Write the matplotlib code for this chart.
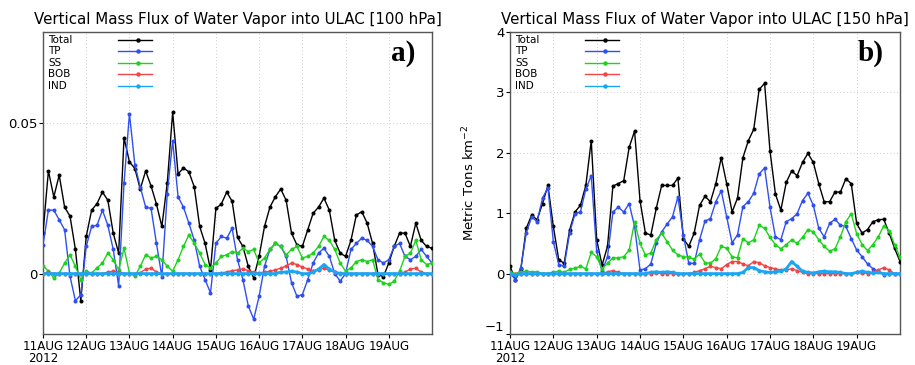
import numpy as np
import pandas as pd
import matplotlib
matplotlib.use("Agg")
import matplotlib.pyplot as plt

# 3-hourly samples, 11AUG2012 00Z .. 20AUG2012 00Z
times = pd.date_range("2012-08-11 00:00", periods=73, freq="3h")
day_ticks = pd.date_range("2012-08-11", periods=9, freq="D")
day_labels = ["11AUG\n2012", "12AUG", "13AUG", "14AUG", "15AUG",
              "16AUG", "17AUG", "18AUG", "19AUG"]

series_names = ["Total", "TP", "SS", "BOB", "IND"]
COLORS = ["black", "#2f4ff0", "#1ed21e", "#f04646", "#1aa6f5"]

# ---- 100 hPa ----
left_total = [0.0134, 0.034, 0.0254, 0.0326, 0.022, 0.019, 0.008, -0.009, 0.0123,
              0.021, 0.0232, 0.027, 0.0243, 0.0134, 0.0068, 0.045, 0.037, 0.0348,
              0.028, 0.034, 0.029, 0.023, 0.0156, 0.030, 0.0534, 0.033, 0.035,
              0.0337, 0.0287, 0.0156, 0.010, 0.0013, 0.0216, 0.023, 0.027, 0.024,
              0.012, 0.009, 0.0024, -0.0014, 0.0057, 0.0156, 0.022, 0.0254, 0.028,
              0.0243, 0.0134, 0.0095, 0.009, 0.0145, 0.020, 0.022, 0.025, 0.021,
              0.011, 0.0068, 0.0057, 0.011, 0.0194, 0.0205, 0.0167, 0.010, -0.0003,
              -0.001, 0.0035, 0.009, 0.0134, 0.0134, 0.009, 0.0167, 0.011, 0.009, 0.0084]
left_tp = [0.0095, 0.021, 0.021, 0.0178, 0.0145, -0.0009, -0.009, -0.007, 0.009,
           0.0156, 0.016, 0.021, 0.016, 0.008, -0.004, 0.030, 0.053, 0.036,
           0.0287, 0.022, 0.0216, 0.010, -0.001, 0.0265, 0.044, 0.0254, 0.022,
           0.0167, 0.011, 0.0024, -0.002, -0.0064, 0.010, 0.0123, 0.0117, 0.015,
           0.0046, -0.002, -0.0107, -0.0151, -0.0075, 0.0024, 0.008, 0.010, 0.009,
           0.0057, -0.003, -0.0075, -0.007, -0.002, 0.0035, 0.0068, 0.0084, 0.0057,
           0.0, -0.0025, 0.0, 0.008, 0.010, 0.0117, 0.011, 0.009, 0.0046,
           0.0035, 0.0046, 0.009, 0.010, 0.0057, 0.0046, 0.0057, 0.008, 0.0057, 0.0035]
left_ss = [0.0026, 0.0008, -0.0015, 0.0002, 0.0035, 0.0062, 0.0024, -0.002, 0.0008,
           0.0002, 0.0019, 0.0035, 0.0068, 0.0046, 0.0013, 0.0084, 0.0002, -0.0009,
           0.0024, 0.0062, 0.0052, 0.0057, 0.0046, 0.0024, 0.0008, 0.0046, 0.009,
           0.0128, 0.010, 0.0068, 0.003, 0.0019, 0.0035, 0.0057, 0.0062, 0.0073,
           0.0068, 0.0084, 0.0073, 0.008, 0.0035, 0.0052, 0.008, 0.010, 0.009,
           0.0062, 0.008, 0.009, 0.0052, 0.0057, 0.0068, 0.009, 0.0123, 0.011,
           0.008, 0.0035, 0.0008, 0.0019, 0.004, 0.0046, 0.004, 0.0046, -0.002,
           -0.003, -0.0036, -0.0025, 0.0008, 0.0057, 0.0068, 0.011, 0.0046, 0.003, 0.0035]
left_bob = [0.0, 0.0005, 0.0, 0.0, 0.0, 0.0, 0.0, 0.0, 0.0,
            0.0, 0.0, 0.0, 0.0005, 0.0008, 0.0005, 0.0, 0.0, 0.0,
            0.0003, 0.0015, 0.0018, 0.0005, 0.0, 0.0, 0.0, 0.0, 0.0,
            0.0, 0.0, 0.0, 0.0, 0.0, 0.0, 0.0003, 0.0005, 0.001,
            0.0012, 0.0015, 0.001, 0.0005, 0.0003, 0.0005, 0.0008, 0.0012, 0.0018,
            0.0025, 0.0035, 0.003, 0.0022, 0.0015, 0.001, 0.0012, 0.0018, 0.0012,
            0.0005, 0.0002, 0.0, 0.0, 0.0, 0.0, 0.0, 0.0, 0.0,
            0.0, 0.0, 0.0, 0.0, 0.0005, 0.0015, 0.0018, 0.0005, 0.0, 0.0]
left_ind = [0.0, 0.0, 0.0, 0.0, 0.0, 0.0, 0.0, 0.0, 0.0,
            0.0, 0.0, 0.0, 0.0, 0.0, 0.0, 0.0, 0.0, 0.0,
            0.0, 0.0, 0.0, 0.0, 0.0, 0.0, 0.0, 0.0, 0.0,
            0.0, 0.0, 0.0, 0.0, 0.0, 0.0, 0.0, 0.0, 0.0,
            0.0, 0.0, 0.0, 0.0, 0.0, 0.0, 0.0, 0.0, 0.0005,
            0.0005, 0.0008, 0.0005, 0.0, 0.0, 0.0005, 0.0015, 0.003, 0.0015,
            0.0005, 0.0, 0.0, 0.0, 0.0, 0.0, 0.0, 0.0, 0.0,
            0.0, 0.0, 0.0, 0.0, 0.0, 0.0, 0.0, 0.0, 0.0, 0.0]

# ---- 150 hPa ----
right_total = [0.12, -0.1, 0.07, 0.75, 0.97, 0.89, 1.16, 1.46, 0.78,
               0.23, 0.17, 0.72, 1.02, 1.13, 1.46, 2.2, 0.56, 0.14,
               0.45, 1.45, 1.49, 1.54, 2.09, 2.36, 1.21, 0.67, 0.64,
               1.08, 1.46, 1.46, 1.46, 1.58, 0.58, 0.45, 0.67, 1.13,
               1.28, 1.19, 1.49, 1.92, 1.49, 1.02, 1.25, 1.92, 2.2,
               2.39, 3.05, 3.15, 2.03, 1.32, 1.05, 1.51, 1.70, 1.62,
               1.84, 1.99, 1.84, 1.49, 1.19, 1.19, 1.35, 1.35, 1.57,
               1.49, 0.83, 0.67, 0.73, 0.86, 0.89, 0.9, 0.67, 0.42, 0.2]
right_tp = [0.01, -0.1, 0.09, 0.67, 0.94, 0.86, 1.25, 1.42, 0.53,
            0.15, 0.12, 0.67, 0.99, 1.02, 1.40, 1.62, 0.37, 0.04,
            0.28, 1.02, 1.10, 1.02, 1.16, 0.78, 0.06, 0.08, 0.16,
            0.50, 0.69, 0.82, 0.94, 1.27, 0.64, 0.17, 0.17, 0.56,
            0.87, 0.91, 1.19, 1.37, 0.94, 0.51, 0.64, 1.11, 1.19,
            1.33, 1.65, 1.75, 1.10, 0.61, 0.56, 0.86, 0.91, 0.99,
            1.21, 1.33, 1.13, 0.75, 0.61, 0.83, 0.90, 0.80, 0.78,
            0.58, 0.39, 0.28, 0.16, 0.08, 0.04, -0.02, 0.0, 0.0, 0.0]
right_ss = [0.02, 0.0, 0.03, 0.04, 0.03, 0.03, 0.0, 0.0, 0.03,
            0.04, 0.02, 0.07, 0.09, 0.12, 0.08, 0.35, 0.28, 0.08,
            0.17, 0.26, 0.26, 0.28, 0.39, 0.86, 0.50, 0.31, 0.34,
            0.56, 0.67, 0.53, 0.39, 0.31, 0.28, 0.27, 0.24, 0.32,
            0.18, 0.17, 0.25, 0.45, 0.42, 0.28, 0.26, 0.58, 0.51,
            0.56, 0.80, 0.75, 0.60, 0.48, 0.41, 0.48, 0.56, 0.50,
            0.60, 0.73, 0.69, 0.56, 0.45, 0.37, 0.41, 0.61, 0.86,
            0.99, 0.66, 0.48, 0.38, 0.48, 0.61, 0.79, 0.71, 0.48, 0.27]
right_bob = [0.0, 0.0, 0.0, 0.0, 0.0, 0.0, 0.0, 0.0, 0.0,
             0.0, 0.0, 0.0, 0.0, 0.0, 0.0, 0.0, 0.0, 0.0,
             0.03, 0.05, 0.02, 0.0, 0.0, 0.0, 0.0, 0.0, 0.0,
             0.01, 0.0, 0.0, 0.0, 0.0, 0.0, 0.0, 0.02, 0.05,
             0.08, 0.12, 0.1, 0.08, 0.15, 0.2, 0.2, 0.16, 0.13,
             0.2, 0.18, 0.13, 0.1, 0.08, 0.06, 0.06, 0.08, 0.05,
             0.02, 0.0, 0.0, 0.0, 0.0, 0.0, 0.0, 0.0, 0.0,
             0.0, 0.02, 0.01, 0.0, 0.02, 0.06, 0.1, 0.06, 0.0, 0.0]
right_ind = [0.0, -0.02, 0.0, 0.0, 0.0, 0.0, 0.0, 0.0, 0.0,
             0.0, 0.0, 0.0, 0.0, 0.0, 0.0, 0.0, 0.0, 0.0,
             0.0, 0.0, 0.0, 0.0, 0.0, 0.0, 0.0, 0.0, 0.02,
             0.03, 0.02, 0.03, 0.02, 0.0, 0.0, 0.0, 0.0, 0.0,
             0.0, 0.0, 0.0, 0.0, 0.0, 0.0, 0.0, 0.02, 0.1,
             0.1, 0.05, 0.03, 0.02, 0.03, 0.04, 0.08, 0.2, 0.12,
             0.04, 0.02, 0.01, 0.03, 0.04, 0.03, 0.03, 0.02, 0.0,
             0.0, 0.02, 0.04, 0.02, 0.01, 0.02, 0.0, 0.0, 0.0, 0.0]


def draw_panel(ax, data, level, tag, ylim, yticks, yticklabels):
    for name, vals, color in zip(series_names, data, COLORS):
        lw = 2.0 if name == "IND" else 1.0
        ax.plot(times, vals, color=color, linewidth=lw, marker='o',
                markersize=2.9, markeredgewidth=0, zorder=3)

    ax.set_xlim(times[0], times[-1])
    ax.set_ylim(*ylim)
    ax.set_xticks(day_ticks)
    ax.set_xticklabels(day_labels, fontsize=8.6, linespacing=0.85)
    ax.set_yticks(yticks)
    ax.set_yticklabels(yticklabels, fontsize=9.5)
    ax.tick_params(direction='out', length=3, width=0.8, pad=1)
    ax.tick_params(axis='x', pad=1.5)
    ax.grid(True, linestyle=(0, (1, 3)), color='#bbbbbb', linewidth=0.6)
    for sp in ax.spines.values():
        sp.set_color('#555555')
        sp.set_linewidth(1.0)

    ax.set_title(f"Vertical Mass Flux of Water Vapor into ULAC [{level} hPa]",
                 fontsize=10.8, pad=6)

    # legend key drawn GrADS style: label left, line+dot to the right
    rows = [0.974, 0.936, 0.898, 0.860, 0.822]
    for name, color, yy in zip(series_names, COLORS, rows):
        ax.text(0.013, yy, name, transform=ax.transAxes, fontsize=7.5,
                va='center', ha='left')
        ax.plot([0.193, 0.28], [yy, yy], transform=ax.transAxes,
                color=color, linewidth=1.0, clip_on=False)
        ax.plot([0.244], [yy], transform=ax.transAxes, color=color,
                marker='o', markersize=3.2, markeredgewidth=0)

    ax.text(0.925, 0.93, tag, transform=ax.transAxes, fontsize=21,
            fontweight='bold', family='Liberation Serif',
            ha='center', va='center')


fig = plt.figure(figsize=(9.15, 3.65), dpi=100)
ax1 = fig.add_axes([43 / 915, 31 / 365, 389 / 915, 302 / 365])
ax2 = fig.add_axes([510 / 915, 31 / 365, 390 / 915, 302 / 365])

draw_panel(ax1, [left_total, left_tp, left_ss, left_bob, left_ind], 100, "a)",
           (-0.02, 0.08), [0, 0.05], ["0", "0.05"])
draw_panel(ax2, [right_total, right_tp, right_ss, right_bob, right_ind], 150, "b)",
           (-1, 4), [-1, 0, 1, 2, 3, 4], ["\u22121", "0", "1", "2", "3", "4"])
ax2.set_ylabel("Metric Tons km$^{-2}$", fontsize=9.5)
ax2.yaxis.set_label_coords(-0.085, 0.5)
# lift the bottom y label a little so it clears the date labels
ax2.get_yticklabels()[0].set_verticalalignment('bottom')

fig.savefig("out.png", dpi=100)
